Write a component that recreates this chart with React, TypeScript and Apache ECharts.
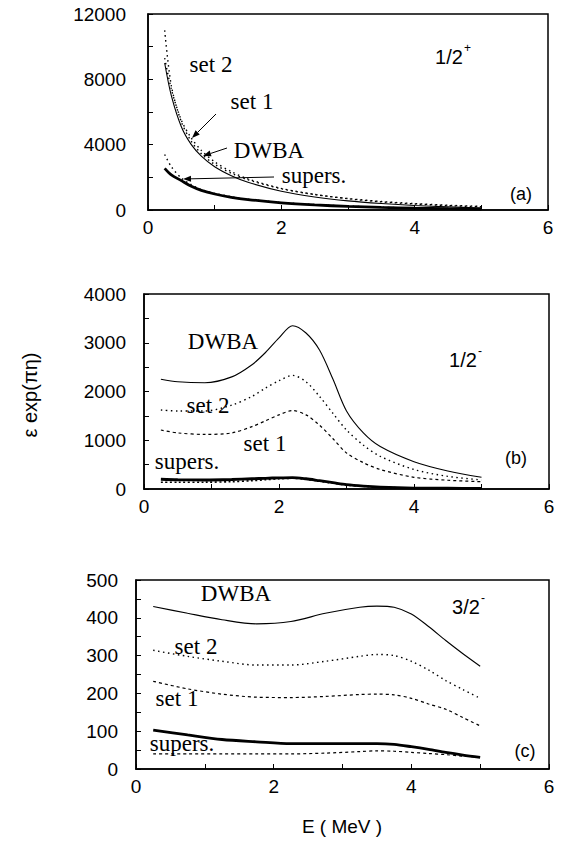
import React, { useEffect, useRef } from "react";
import * as echarts from "echarts";

// ---------- data ----------
const xA = [0.25, 0.35, 0.5, 0.65, 0.8, 1, 1.25, 1.5, 2, 2.5, 3, 3.5, 4, 4.5, 5];
const dwbaA = [9000, 7000, 5100, 4000, 3300, 2650, 2100, 1700, 1150, 800, 560, 400, 280, 190, 120];
const set1A = [9300, 7400, 5500, 4400, 3650, 2950, 2350, 1900, 1320, 950, 690, 500, 370, 270, 200];
const set2A = [11000, 7600, 5400, 4200, 3450, 2800, 2250, 1850, 1300, 950, 700, 520, 390, 290, 220];
const supA = [2550, 2150, 1800, 1450, 1200, 980, 780, 640, 440, 310, 220, 160, 110, 80, 60];
const supDotA = [3400, 2650, 1950, 1550, 1250, 1020, 810, 660, 460, 330, 240, 170, 120, 90, 70];

const xB = [0.25, 0.5, 0.9, 1.3, 1.6, 1.8, 2.0, 2.2, 2.4, 2.6, 2.8, 3.0, 3.25, 3.5, 4, 4.5, 5];
const dwbaB = [2250, 2200, 2180, 2300, 2550, 2800, 3100, 3350, 3200, 2850, 2250, 1600, 1150, 870, 560, 370, 240];
const set2B = [1620, 1600, 1600, 1720, 1900, 2070, 2220, 2330, 2200, 1900, 1550, 1210, 900, 670, 400, 260, 185];
const set1B = [1210, 1150, 1120, 1150, 1280, 1400, 1520, 1610, 1520, 1310, 1030, 740, 540, 400, 240, 180, 150];
const supB = [200, 190, 185, 195, 210, 220, 230, 235, 210, 170, 130, 90, 60, 40, 20, 15, 10];
const supDotB = [140, 140, 140, 150, 170, 190, 210, 220, 200, 160, 120, 80, 55, 35, 20, 15, 10];

const xC = [0.25, 0.75, 1.25, 1.75, 2.25, 2.75, 3.25, 3.5, 3.75, 4, 4.25, 4.5, 4.75, 5];
const dwbaC = [430, 412, 395, 384, 390, 412, 428, 431, 428, 410, 377, 340, 305, 272];
const set2C = [314, 298, 285, 275, 275, 285, 298, 303, 300, 285, 262, 234, 210, 187];
const set1C = [232, 212, 198, 190, 189, 192, 197, 198, 196, 187, 172, 158, 136, 114];
const supC = [103, 90, 78, 72, 67, 67, 67, 67, 65, 59, 52, 44, 37, 31];
const supDotC = [40, 40, 40, 40, 40, 42, 46, 48, 47, 44, 41, 38, 34, 31];

const xTickLabels = [0, 2, 4, 6];
const yTickLabelsA = [0, 4000, 8000, 12000];
const yTickLabelsB = [0, 1000, 2000, 3000, 4000];
const yTickLabelsC = [0, 100, 200, 300, 400, 500];

// ---------- helpers ----------
const SANS = "'Liberation Sans', Arial, Helvetica, sans-serif";
const SERIF = "'Liberation Serif', 'Times New Roman', serif";

const pairs = (xs: number[], ys: number[]) => xs.map((x, i) => [x, ys[i]]);

function lineSeries(idx: number, xs: number[], ys: number[], kind: string) {
  let lineStyle: any = { color: "#000", width: 1.1, type: "solid" };
  if (kind === "thick") lineStyle = { color: "#000", width: 2.8, type: "solid" };
  if (kind === "dot") lineStyle = { color: "#000", width: 1.4, type: [1.5, 3.5] };
  if (kind === "dash") lineStyle = { color: "#000", width: 1.2, type: [3, 3] };
  if (kind === "dotdense") lineStyle = { color: "#000", width: 1.6, type: [2, 2.5] };
  return {
    type: "line",
    xAxisIndex: idx,
    yAxisIndex: idx,
    data: pairs(xs, ys),
    showSymbol: false,
    smooth: 0.3,
    lineStyle,
    silent: true,
  };
}

function xAxis(idx: number) {
  return {
    type: "value",
    gridIndex: idx,
    min: 0,
    max: 6,
    interval: 1,
    axisLine: { show: true, lineStyle: { color: "#000", width: 1.5 } },
    axisTick: { show: true, inside: true, length: 5, lineStyle: { color: "#000", width: 1 } },
    splitLine: { show: false },
    axisLabel: {
      color: "#000",
      fontFamily: SANS,
      fontSize: 19,
      margin: 8,
      formatter: (v: number) => (xTickLabels.includes(v) ? String(v) : ""),
    },
  };
}

function yAxis(idx: number, max: number, interval: number, labels: number[], margin: number) {
  return {
    type: "value",
    gridIndex: idx,
    min: 0,
    max,
    interval,
    axisLine: { show: true, lineStyle: { color: "#000", width: 1.5 } },
    axisTick: { show: true, inside: true, length: 5, lineStyle: { color: "#000", width: 1 } },
    splitLine: { show: false },
    axisLabel: {
      color: "#000",
      fontFamily: SANS,
      fontSize: 19,
      margin,
      formatter: (v: number) => (labels.includes(v) ? String(v) : ""),
    },
  };
}

function txt(text: string, x: number, y: number, font: string, size: number, align = "center") {
  return {
    type: "text",
    x,
    y,
    silent: true,
    style: {
      text,
      fill: "#000",
      font: `${size}px ${font}`,
      textAlign: align,
      textVerticalAlign: "middle",
    },
  };
}

function arrow(x1: number, y1: number, x2: number, y2: number) {
  const ang = Math.atan2(y2 - y1, x2 - x1);
  const L = 8;
  const W = 3;
  const bx = x2 - L * Math.cos(ang);
  const by = y2 - L * Math.sin(ang);
  const px = -Math.sin(ang);
  const py = Math.cos(ang);
  return [
    {
      type: "line",
      silent: true,
      shape: { x1, y1, x2: bx, y2: by },
      style: { stroke: "#000", lineWidth: 1 },
    },
    {
      type: "polygon",
      silent: true,
      shape: {
        points: [
          [x2, y2],
          [bx + W * px, by + W * py],
          [bx - W * px, by - W * py],
        ],
      },
      style: { fill: "#000" },
    },
  ];
}

export default function App() {
  const ref = useRef<HTMLDivElement>(null);
  useEffect(() => {
    if (!ref.current) return;
    const chart = echarts.init(ref.current, null, { renderer: "svg" });
    const grid = (left: number, top: number, width: number, height: number) => ({
      left,
      top,
      width,
      height,
      show: true,
      borderColor: "#000",
      borderWidth: 1.5,
      backgroundColor: "transparent",
    });
    chart.setOption({
      animation: false,
      backgroundColor: "#fff",
      grid: [grid(148, 14, 400, 196), grid(144, 294, 405, 195), grid(136, 580, 413, 189)],
      xAxis: [xAxis(0), xAxis(1), xAxis(2)],
      yAxis: [
        yAxis(0, 12000, 2000, yTickLabelsA, 22),
        yAxis(1, 4000, 500, yTickLabelsB, 18),
        yAxis(2, 500, 50, yTickLabelsC, 18),
      ],
      series: [
        lineSeries(0, xA, dwbaA, "solid"),
        lineSeries(0, xA, set1A, "dot"),
        lineSeries(0, xA, set2A, "dot"),
        lineSeries(0, xA, supA, "thick"),
        lineSeries(0, xA, supDotA, "dot"),
        lineSeries(1, xB, dwbaB, "solid"),
        lineSeries(1, xB, set2B, "dot"),
        lineSeries(1, xB, set1B, "dash"),
        lineSeries(1, xB, supB, "thick"),
        lineSeries(1, xB, supDotB, "dotdense"),
        lineSeries(2, xC, dwbaC, "solid"),
        lineSeries(2, xC, set2C, "dot"),
        lineSeries(2, xC, set1C, "dash"),
        lineSeries(2, xC, supC, "thick"),
        lineSeries(2, xC, supDotC, "dash"),
      ],
      graphic: [
        // axis titles
        {
          type: "text",
          x: 30,
          y: 395,
          rotation: Math.PI / 2,
          silent: true,
          style: {
            text: "ε exp(πη)",
            fill: "#000",
            font: `20px ${SANS}`,
            textAlign: "center",
            textVerticalAlign: "middle",
          },
        },
        txt("E ( MeV )", 342, 826, SANS, 19),
        // panel a
        txt("set 2", 211, 64, SERIF, 23),
        txt("set 1", 252, 101, SERIF, 23),
        txt("DWBA", 269, 150, SERIF, 23),
        txt("supers.", 314, 175, SERIF, 23),
        txt("1/2", 449, 57, SANS, 20),
        txt("+", 464, 48, SANS, 12, "left"),
        txt("(a)", 521, 194, SANS, 18),
        ...arrow(216, 114, 192, 138),
        ...arrow(227, 148, 203, 156),
        ...arrow(274, 177, 183, 179),
        // panel b
        txt("DWBA", 223, 341, SERIF, 23),
        txt("1/2", 463, 360, SANS, 20),
        txt("-", 478, 351, SANS, 12, "left"),
        txt("set 2", 208, 405, SERIF, 23),
        txt("set 1", 265, 443, SERIF, 23),
        txt("supers.", 187, 461, SERIF, 23),
        txt("(b)", 516, 458, SANS, 18),
        // panel c
        txt("DWBA", 236, 593, SERIF, 23),
        txt("3/2", 466, 607, SANS, 20),
        txt("-", 481, 598, SANS, 12, "left"),
        txt("set 2", 196, 646, SERIF, 23),
        txt("set 1", 177, 698, SERIF, 23),
        txt("supers.", 182, 743, SERIF, 23),
        txt("(c)", 525, 751, SANS, 18),
      ],
    });
    return () => chart.dispose();
  }, []);
  return (
    <div
      ref={ref}
      style={{ position: "fixed", left: 0, top: 0, width: 568, height: 843, background: "#fff" }}
    />
  );
}
